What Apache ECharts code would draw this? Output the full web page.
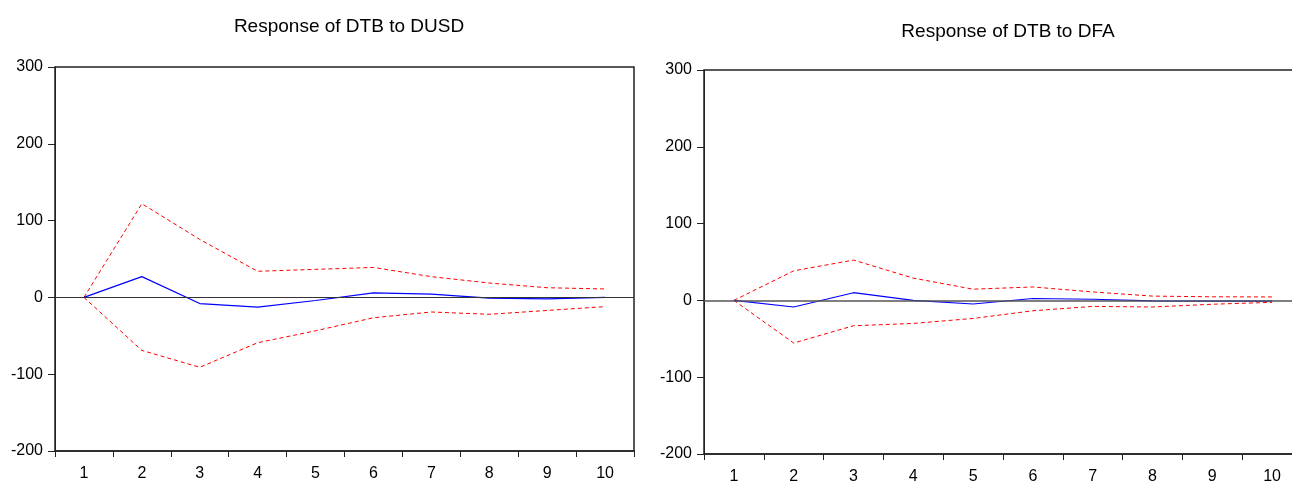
<!DOCTYPE html>
<html>
<head>
<meta charset="utf-8">
<script src="https://cdn.jsdelivr.net/npm/echarts@6/dist/echarts.min.js"></script>
<style>
html,body{margin:0;padding:0;background:#fff;overflow:hidden;width:1292px;height:485px;}
#main{width:1310px;height:485px;}
</style>
</head>
<body>
<div id="main"></div>
<script>
var periods = ['1','2','3','4','5','6','7','8','9','10'];
var yTicks = [-200, -100, 0, 100, 200, 300];

var titleLeft = 'Response of DTB to DUSD';
var titleRight = 'Response of DTB to DFA';

// Response of DTB to DUSD
var dusdResp  = [0, 27, -8, -12.6, -4, 6, 4.3, -1, -2, 0];
var dusdUpper = [0, 122, 75.5, 34, 36.5, 39, 27, 18.7, 12.6, 11];
var dusdLower = [0, -69, -91, -59, -43.5, -26.5, -19, -22, -17, -12];

// Response of DTB to DFA
var dfaResp  = [0, -8.6, 10, 0, -4.7, 2.5, 1.5, -0.5, -1, -1];
var dfaUpper = [0, 38.5, 52.5, 29, 14.6, 17.5, 11, 5.6, 4.7, 4.5];
var dfaLower = [0, -55.5, -33, -30, -23.5, -13.5, -7.8, -8.6, -5, -2.5];

var FONT = 'Liberation Sans, Arial, sans-serif';
var chart = echarts.init(document.getElementById('main'), null, {renderer: 'canvas'});

function xAxis(gi) {
  return {
    type: 'category', gridIndex: gi, data: periods, boundaryGap: true,
    axisLine: {show: true, onZero: false, lineStyle: {color: '#222', width: 1.5}},
    axisTick: {show: true, alignWithLabel: false, length: 6, lineStyle: {color: '#222', width: 1}},
    axisLabel: {color: '#000', fontSize: 16, fontFamily: FONT, margin: 15},
    splitLine: {show: false}
  };
}
function yAxis(gi) {
  return {
    type: 'value', gridIndex: gi, min: yTicks[0], max: yTicks[yTicks.length - 1], interval: 100,
    axisLine: {show: true, lineStyle: {color: '#222', width: 1}},
    axisTick: {show: true, length: 7, lineStyle: {color: '#222', width: 1}},
    axisLabel: {color: '#000', fontSize: 16, fontFamily: FONT, margin: 12},
    splitLine: {show: false}
  };
}
function lineSeries(gi, data, color, dashed, zeroStyle) {
  var s = {
    type: 'line', xAxisIndex: gi, yAxisIndex: gi, data: data,
    symbol: 'none', smooth: false, silent: true, animation: false,
    lineStyle: {color: color, width: dashed ? 1 : 1.2, type: dashed ? [4, 3] : 'solid'},
    z: dashed ? 3 : 4
  };
  if (zeroStyle) {
    s.markLine = {
      silent: true, symbol: ['none', 'none'], label: {show: false},
      lineStyle: zeroStyle,
      data: [{yAxis: 0}], animation: false
    };
  }
  return s;
}

chart.setOption({
  animation: false,
  backgroundColor: '#fff',
  title: [
    {text: titleLeft, left: 344, top: 12, textAlign: 'center',
     textStyle: {fontSize: 19, fontWeight: 'normal', color: '#000', fontFamily: FONT}},
    {text: titleRight, left: 1003, top: 17, textAlign: 'center',
     textStyle: {fontSize: 19, fontWeight: 'normal', color: '#000', fontFamily: FONT}}
  ],
  grid: [
    {left: 55, top: 67, width: 579, height: 384, show: true, borderColor: '#222', borderWidth: 1.5, backgroundColor: 'transparent'},
    {left: 704, top: 70, width: 598, height: 387, show: true, borderColor: '#222', borderWidth: 1.5, backgroundColor: 'transparent'}
  ],
  xAxis: [xAxis(0), xAxis(1)],
  yAxis: [yAxis(0), yAxis(1)],
  series: [
    lineSeries(0, dusdUpper, '#ff0000', true, {color: '#333', width: 1, type: 'solid'}),
    lineSeries(0, dusdLower, '#ff0000', true, null),
    lineSeries(0, dusdResp, '#0000ff', false, null),
    lineSeries(1, dfaUpper, '#ff0000', true, {color: '#555', width: 1.5, type: 'solid'}),
    lineSeries(1, dfaLower, '#ff0000', true, null),
    lineSeries(1, dfaResp, '#0000ff', false, null)
  ]
});
</script>
</body>
</html>
